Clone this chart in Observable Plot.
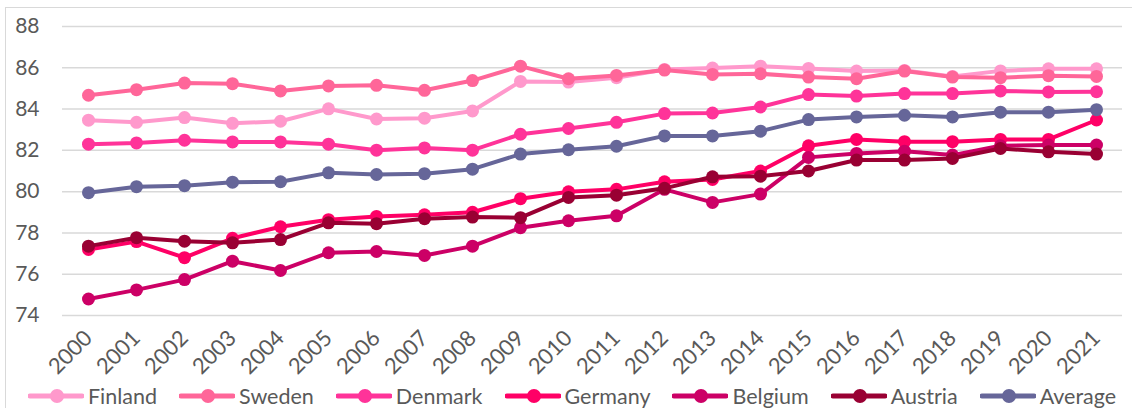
<!DOCTYPE html>
<html>
<head>
<meta charset="utf-8">
<script src="https://cdn.jsdelivr.net/npm/d3@7"></script>
<script src="https://cdn.jsdelivr.net/npm/@observablehq/plot@0.6"></script>
<style>
  html, body { margin: 0; padding: 0; background: #fff; overflow: hidden; }
  body { width: 1132px; height: 408px; position: relative; font-family: Lato, "Open Sans", sans-serif; }
  #frame { position: absolute; left: 5px; top: 7px; width: 1140px; height: 420px; border: 1px solid #d9d9d9; pointer-events: none; }
  #chart { position: absolute; left: 0; top: 0; }
  #legend { position: absolute; left: 28px; top: 383px; display: flex; align-items: center; color: #595959; font-size: 21.5px; white-space: nowrap; }
  .item { display: flex; align-items: center; margin-right: 22px; }
  .item svg { margin-right: 4px; }
</style>
</head>
<body>
<div id="chart"></div>
<div id="legend"></div>
<div id="frame"></div>
<script>
const years = [2000, 2001, 2002, 2003, 2004, 2005, 2006, 2007, 2008, 2009, 2010,
               2011, 2012, 2013, 2014, 2015, 2016, 2017, 2018, 2019, 2020, 2021];
const seriesNames = ["Finland", "Sweden", "Denmark", "Germany", "Belgium", "Austria", "Average"];
const seriesColors = ["#FF99CC", "#FF6699", "#FF3399", "#FF0066", "#CC0066", "#990033", "#666699"];

const finland = [83.46, 83.36, 83.59, 83.31, 83.41, 84.01, 83.52, 83.56, 83.91, 85.34, 85.31,
                 85.52, 85.92, 85.99, 86.08, 85.97, 85.84, 85.87, 85.58, 85.85, 85.95, 85.95];
const sweden  = [84.67, 84.94, 85.26, 85.23, 84.88, 85.12, 85.15, 84.91, 85.38, 86.08, 85.47,
                 85.63, 85.89, 85.68, 85.71, 85.55, 85.47, 85.84, 85.55, 85.52, 85.62, 85.58];
const denmark = [82.30, 82.36, 82.49, 82.41, 82.41, 82.30, 82.01, 82.12, 82.01, 82.78, 83.06,
                 83.36, 83.78, 83.81, 84.10, 84.70, 84.63, 84.75, 84.75, 84.88, 84.83, 84.84];
const germany = [77.20, 77.58, 76.80, 77.74, 78.30, 78.64, 78.80, 78.88, 79.00, 79.66, 79.99,
                 80.11, 80.48, 80.59, 81.00, 82.22, 82.53, 82.42, 82.42, 82.53, 82.53, 83.47];
const belgium = [74.80, 75.24, 75.74, 76.63, 76.18, 77.04, 77.10, 76.91, 77.36, 78.25, 78.59,
                 78.83, 80.11, 79.48, 79.88, 81.66, 81.85, 81.96, 81.77, 82.22, 82.26, 82.26];
const austria = [77.36, 77.77, 77.60, 77.52, 77.68, 78.49, 78.45, 78.69, 78.77, 78.74, 79.72,
                 79.83, 80.16, 80.72, 80.75, 81.00, 81.53, 81.53, 81.61, 82.09, 81.93, 81.82];
const average = [79.95, 80.24, 80.29, 80.46, 80.48, 80.91, 80.83, 80.87, 81.09, 81.82, 82.03,
                 82.20, 82.70, 82.70, 82.93, 83.49, 83.62, 83.70, 83.62, 83.85, 83.85, 83.97];
const seriesValues = [finland, sweden, denmark, germany, belgium, austria, average];
const yTicks = [74, 76, 78, 80, 82, 84, 86, 88];

const seriesMarks = seriesNames.flatMap((name, i) => {
  const data = years.map((year, j) => ({year, value: seriesValues[i][j], name}));
  return [
    Plot.line(data, {x: "year", y: "value", stroke: seriesColors[i], strokeWidth: 4}),
    Plot.dot(data, {x: "year", y: "value", fill: seriesColors[i], r: 6.5, stroke: "none"})
  ];
});

const chart = Plot.plot({
  width: 1132,
  height: 382,
  marginTop: 26,
  marginBottom: 67,
  marginLeft: 62,
  marginRight: 10,
  style: {background: "transparent", fontFamily: "Lato, 'Open Sans', sans-serif", color: "#595959"},
  x: {type: "point", domain: years, padding: 0.5},
  y: {domain: [74, 88]},
  marks: [
    Plot.gridY(yTicks, {stroke: "#d9d9d9", strokeOpacity: 1, strokeWidth: 1.5}),
    Plot.axisY(yTicks, {tickSize: 0, tickPadding: 23, fontSize: 21, fill: "#595959", label: null}),
    Plot.axisX(years, {tickSize: 0, tickRotate: -45, tickPadding: 19, dx: 0, fontSize: 22, fill: "#595959", label: null, tickFormat: d => String(d)}),
    ...seriesMarks
  ]
});
document.getElementById("chart").appendChild(chart);

const legend = document.getElementById("legend");
seriesNames.forEach((name, i) => {
  const item = document.createElement("div");
  item.className = "item";
  item.innerHTML = `<svg width="56" height="18"><line x1="2" x2="54" y1="9" y2="9" stroke="${seriesColors[i]}" stroke-width="5" stroke-linecap="round"/><circle cx="29" cy="9" r="7" fill="${seriesColors[i]}"/></svg>`;
  const span = document.createElement("span");
  span.textContent = name;
  item.appendChild(span);
  legend.appendChild(item);
});
</script>
</body>
</html>
